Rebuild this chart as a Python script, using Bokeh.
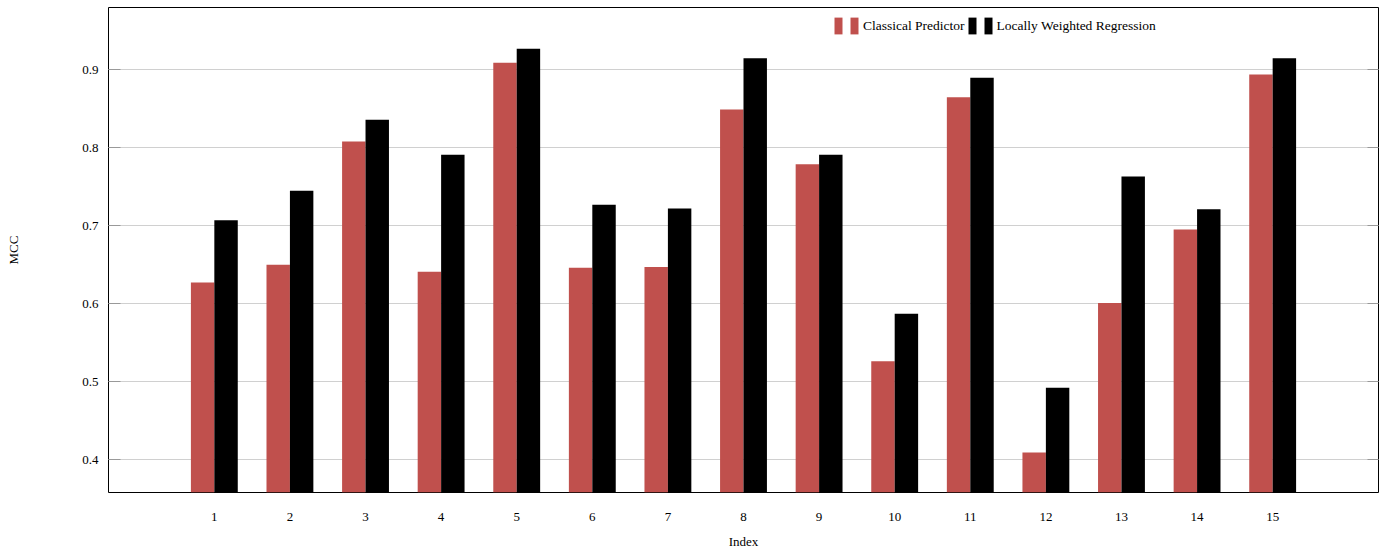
from bokeh.plotting import figure
from bokeh.models import (ColumnDataSource, FixedTicker, LinearAxis, Legend, LegendItem, Range1d)
from bokeh.transform import dodge
from bokeh.embed import file_html
from bokeh.resources import INLINE

# ---- data ----
index = list(range(1, 16))
classical = [0.627, 0.650, 0.808, 0.641, 0.909, 0.646, 0.647, 0.849, 0.779, 0.526,
             0.865, 0.409, 0.601, 0.695, 0.894]
lwr = [0.707, 0.745, 0.836, 0.791, 0.927, 0.727, 0.722, 0.915, 0.791, 0.587,
       0.890, 0.492, 0.763, 0.721, 0.915]
x_ticks = index
y_ticks = [0.4, 0.5, 0.6, 0.7, 0.8, 0.9]
series_names = ["Classical Predictor", "Locally Weighted Regression"]
series_colors = ["#C0504D", "#000000"]

FONT = "Liberation Serif"

src = ColumnDataSource(dict(x=index, a=classical, b=lwr))

p = figure(width=1386, height=551, output_backend="svg", toolbar_location=None,
           x_range=Range1d(-0.4, 16.4), y_range=Range1d(0.3577, 0.98),
           min_border_left=108, min_border_right=8, min_border_top=7, min_border_bottom=59)

bw = 0.31
r1 = p.vbar(x=dodge("x", -bw / 2, range=p.x_range), top="a", bottom=0, width=bw, source=src,
            fill_color=series_colors[0], line_color=None)
r2 = p.vbar(x=dodge("x", bw / 2, range=p.x_range), top="b", bottom=0, width=bw, source=src,
            fill_color=series_colors[1], line_color=None)

# axes
xa = p.xaxis[0]
xa.ticker = FixedTicker(ticks=x_ticks)
xa.major_tick_in = 0
xa.major_tick_out = 0
xa.minor_tick_line_color = None
xa.axis_line_color = None
xa.axis_label = "Index"
xa.axis_label_text_font = FONT
xa.axis_label_text_font_size = "13px"
xa.axis_label_text_font_style = "normal"
xa.axis_label_text_color = "black"
xa.axis_label_standoff = 10
xa.major_label_text_font = FONT
xa.major_label_text_font_size = "13px"
xa.major_label_text_color = "black"
xa.major_label_standoff = 20

ya = p.yaxis[0]
ya.ticker = FixedTicker(ticks=y_ticks)
ya.major_tick_in = 12
ya.major_tick_out = 0
ya.major_tick_line_color = "#999999"
ya.minor_tick_line_color = None
ya.axis_line_color = None
ya.axis_label = "MCC"
ya.axis_label_text_font = FONT
ya.axis_label_text_font_size = "13px"
ya.axis_label_text_font_style = "normal"
ya.axis_label_text_color = "black"
ya.axis_label_standoff = 58
ya.major_label_text_font = FONT
ya.major_label_text_font_size = "13px"
ya.major_label_text_color = "black"
ya.major_label_standoff = 10

ra = LinearAxis(ticker=FixedTicker(ticks=y_ticks))
ra.major_tick_in = 11
ra.major_tick_out = 0
ra.major_tick_line_color = "#999999"
ra.minor_tick_line_color = None
ra.axis_line_color = None
ra.major_label_overrides = {t: "" for t in y_ticks}
ra.major_label_text_font_size = "1px"
ra.major_label_standoff = 0
p.add_layout(ra, "right")

p.xgrid.grid_line_color = None
p.ygrid.ticker = FixedTicker(ticks=y_ticks)
p.ygrid.grid_line_color = "#d0d0d0"
p.ygrid.grid_line_width = 1

p.outline_line_color = "black"
p.outline_line_width = 1
p.background_fill_color = "white"
p.border_fill_color = "white"

legend = Legend(items=[
    LegendItem(label="", renderers=[r1]),
    LegendItem(label=series_names[0], renderers=[r1]),
    LegendItem(label="", renderers=[r2]),
    LegendItem(label=series_names[1], renderers=[r2]),
], orientation="horizontal", location=(725, 456))
legend.glyph_width = 10
legend.glyph_height = 21
legend.label_height = 21
legend.label_width = 0
legend.label_standoff = 4
legend.spacing = 2
legend.padding = 0
legend.margin = 0
legend.border_line_color = None
legend.background_fill_alpha = 0
legend.label_text_font = FONT
legend.label_text_font_size = "13.5px"
legend.label_text_color = "black"
p.add_layout(legend, "center")

open("out.html", "w").write(file_html(p, INLINE))
